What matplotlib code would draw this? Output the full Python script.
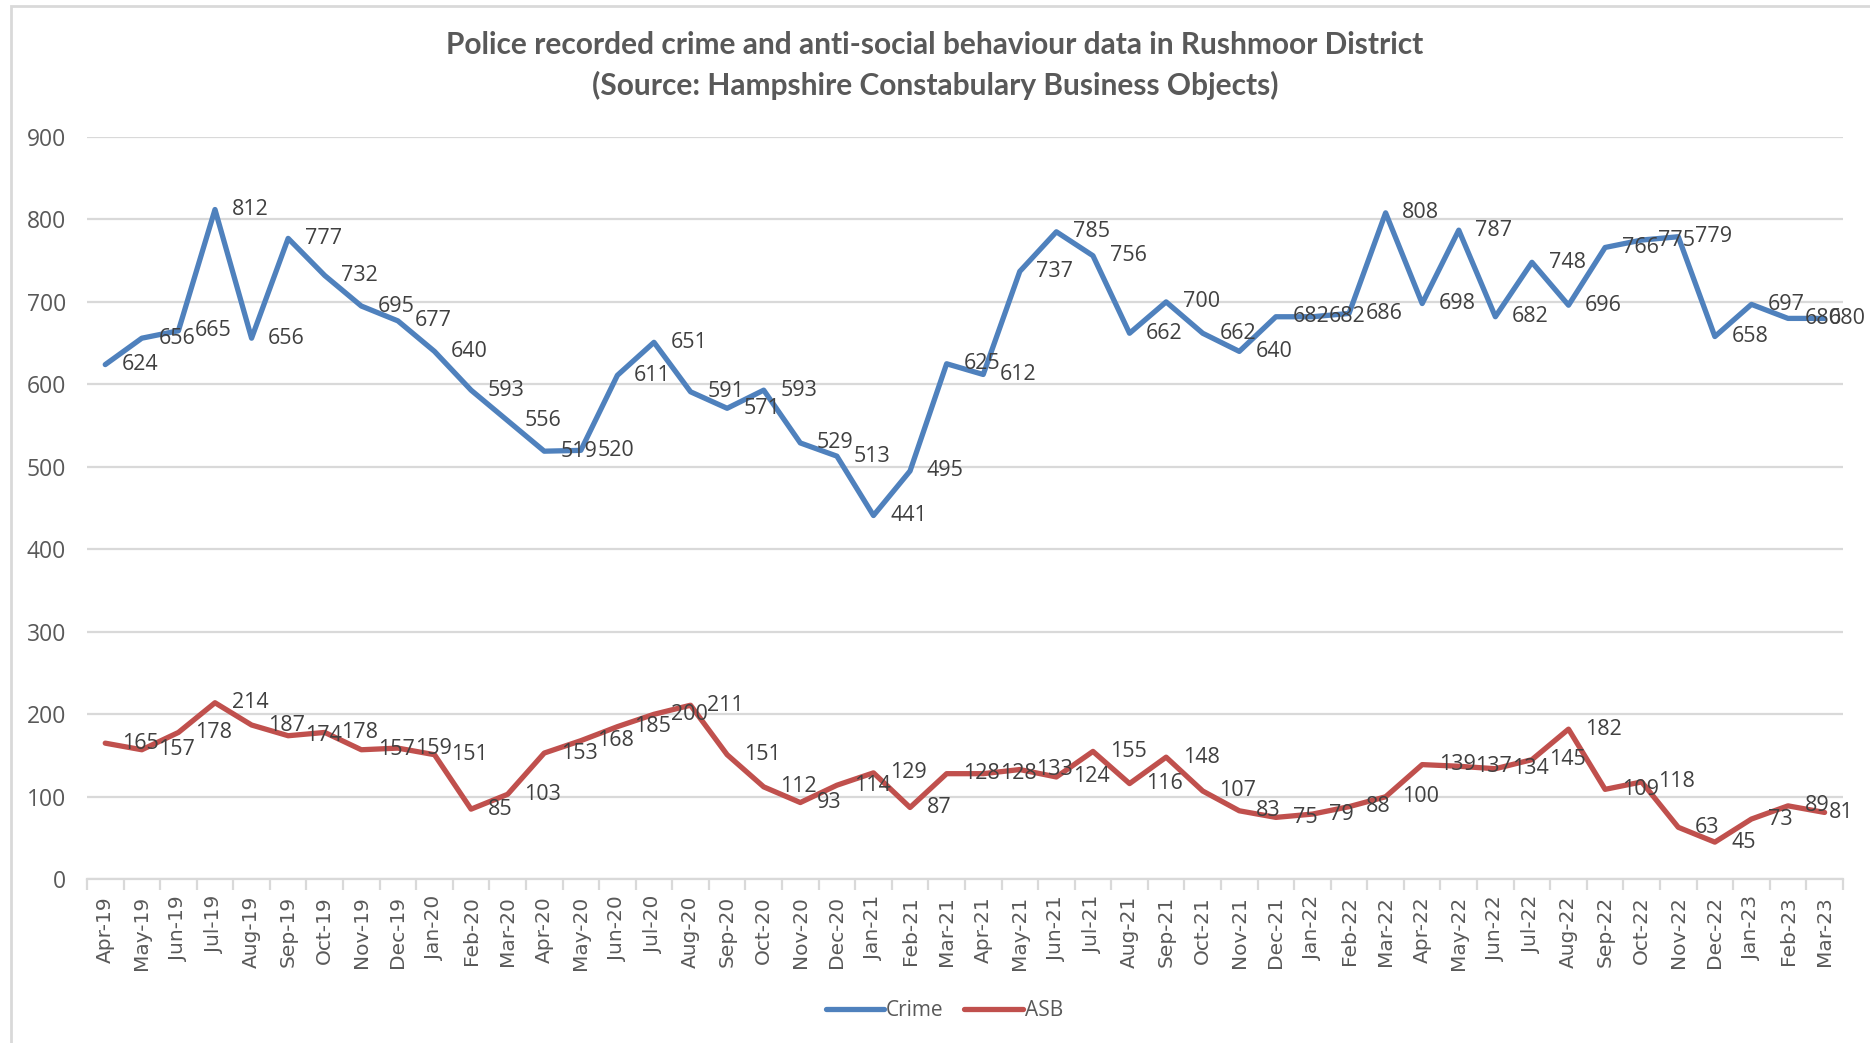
import numpy as np
import matplotlib.pyplot as plt
from matplotlib.patches import Rectangle

# months Apr-19 .. Mar-23
months = ['Apr-19', 'May-19', 'Jun-19', 'Jul-19', 'Aug-19', 'Sep-19', 'Oct-19', 'Nov-19', 'Dec-19',
          'Jan-20', 'Feb-20', 'Mar-20', 'Apr-20', 'May-20', 'Jun-20', 'Jul-20', 'Aug-20', 'Sep-20',
          'Oct-20', 'Nov-20', 'Dec-20', 'Jan-21', 'Feb-21', 'Mar-21', 'Apr-21', 'May-21', 'Jun-21',
          'Jul-21', 'Aug-21', 'Sep-21', 'Oct-21', 'Nov-21', 'Dec-21', 'Jan-22', 'Feb-22', 'Mar-22',
          'Apr-22', 'May-22', 'Jun-22', 'Jul-22', 'Aug-22', 'Sep-22', 'Oct-22', 'Nov-22', 'Dec-22',
          'Jan-23', 'Feb-23', 'Mar-23']

crime = [624, 656, 665, 812, 656, 777, 732, 695, 677, 640, 593, 556,
         519, 520, 611, 651, 591, 571, 593, 529, 513, 441, 495, 625,
         612, 737, 785, 756, 662, 700, 662, 640, 682, 682, 686, 808,
         698, 787, 682, 748, 696, 766, 775, 779, 658, 697, 680, 680]

asb = [165, 157, 178, 214, 187, 174, 178, 157, 159, 151, 85, 103,
       153, 168, 185, 200, 211, 151, 112, 93, 114, 129, 87, 128,
       128, 133, 124, 155, 116, 148, 107, 83, 75, 79, 88, 100,
       139, 137, 134, 145, 182, 109, 118, 63, 45, 73, 89, 81]

title_lines = ['Police recorded crime and anti-social behaviour data in Rushmoor District',
               '(Source: Hampshire Constabulary Business Objects)']

blue = '#4F81BD'
red = '#C0504D'
grey_txt = '#595959'
grid_col = '#D9D9D9'

fig = plt.figure(figsize=(18.7, 10.43), dpi=100)
ax = fig.add_axes([0.0465, 0.157, 0.939, 0.7117])

# chart border
fig.patches.append(Rectangle((11 / 1870, -0.05), 1.1, 1 - 6 / 1043 + 0.05, transform=fig.transFigure,
                             fill=False, edgecolor=grid_col, linewidth=2))

x = np.arange(len(months))
ax.plot(x, crime, color=blue, lw=3.8, label='Crime', solid_joinstyle='round', solid_capstyle='round', zorder=3)
ax.plot(x, asb, color=red, lw=3.8, label='ASB', solid_joinstyle='round', solid_capstyle='round', zorder=3)

# data labels to the right of each point (last one squeezed in, like Excel does)
for series in (crime, asb):
    for i, v in enumerate(series):
        dx = 3 if i == len(series) - 1 else 12
        ax.annotate(str(v), (i, v), xytext=(dx, 0), textcoords='offset points',
                    ha='left', va='center', fontsize=15.5, color='#404040',
                    family='Open Sans', zorder=4)

ax.set_xlim(-0.5, len(months) - 0.5)
ax.set_ylim(0, 900)
ax.set_yticks(range(0, 1000, 100))
ax.yaxis.grid(True, color=grid_col, lw=1.6)
ax.set_axisbelow(True)

for s in ['top', 'right', 'left']:
    ax.spines[s].set_visible(False)
ax.spines['bottom'].set_color(grid_col)
ax.spines['bottom'].set_linewidth(1.6)

ax.set_xticks(x)
ax.set_xticklabels(months, rotation=90, fontsize=14.5, color=grey_txt, family='DejaVu Sans')
ax.tick_params(axis='x', length=0, pad=12)
ax.set_xticks(np.arange(-0.5, len(months), 1), minor=True)
ax.tick_params(axis='x', which='minor', length=8, width=1.6, color=grid_col)

ax.tick_params(axis='y', length=0, pad=15, labelsize=16.5, labelcolor=grey_txt)
for t in ax.get_yticklabels():
    t.set_family('Open Sans')

fig.text(0.5, 1 - 45 / 1043, title_lines[0], ha='center', va='center', fontsize=21.5,
         fontweight='bold', color=grey_txt, family='Lato')
fig.text(0.5, 1 - 85 / 1043, title_lines[1], ha='center', va='center', fontsize=21.5,
         fontweight='bold', color=grey_txt, family='Lato')

fig.legend(loc='center', bbox_to_anchor=(0.505, 0.031), ncol=2, frameon=False,
           prop={'family': 'Open Sans', 'size': 15}, labelcolor=grey_txt,
           handlelength=2.8, handletextpad=0.1, columnspacing=1.0)

fig.savefig('out.png', dpi=100, facecolor='white')
